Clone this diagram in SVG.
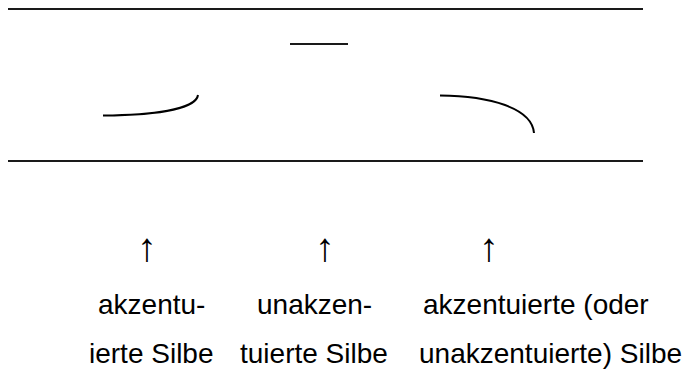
<svg xmlns="http://www.w3.org/2000/svg" width="688" height="371" viewBox="0 0 688 371">
<style>
.t{font-family:"Liberation Sans",Arial,sans-serif;font-size:28px;fill:#000}
.ar{font-family:"Liberation Sans",Arial,sans-serif;font-size:40px;fill:#000}
.ln{stroke:#1a1a1a;stroke-width:2;fill:none}
.cv{stroke:#000;stroke-width:2;fill:none;stroke-linecap:butt}
</style>
<rect width="688" height="371" fill="#fff"/>
<g id="lines">
<line class="ln" x1="8" y1="9" x2="643" y2="9"/>
<line class="ln" x1="8" y1="161" x2="643" y2="161"/>
<line class="ln" x1="290" y1="44" x2="348" y2="44"/>
</g>
<g id="curves">
<path class="cv" d="M103,115.5 C150,115 196,110 198,95"/>
<path class="cv" d="M440,95.5 C490,96 532,108 534,133"/>
</g>
<g id="arrows">
<text class="ar" x="147" y="261" text-anchor="middle">↑</text>
<text class="ar" x="325" y="261" text-anchor="middle">↑</text>
<text class="ar" x="489" y="261" text-anchor="middle">↑</text>
</g>
<g id="labels">
<text class="t" x="98" y="314">akzentu-</text>
<text class="t" x="257" y="314">unakzen-</text>
<text class="t" x="423" y="314">akzentuierte (oder</text>
<text class="t" x="89" y="363">ierte Silbe</text>
<text class="t" x="240" y="363">tuierte Silbe</text>
<text class="t" x="419" y="363">unakzentuierte) Silbe</text>
</g>
</svg>
